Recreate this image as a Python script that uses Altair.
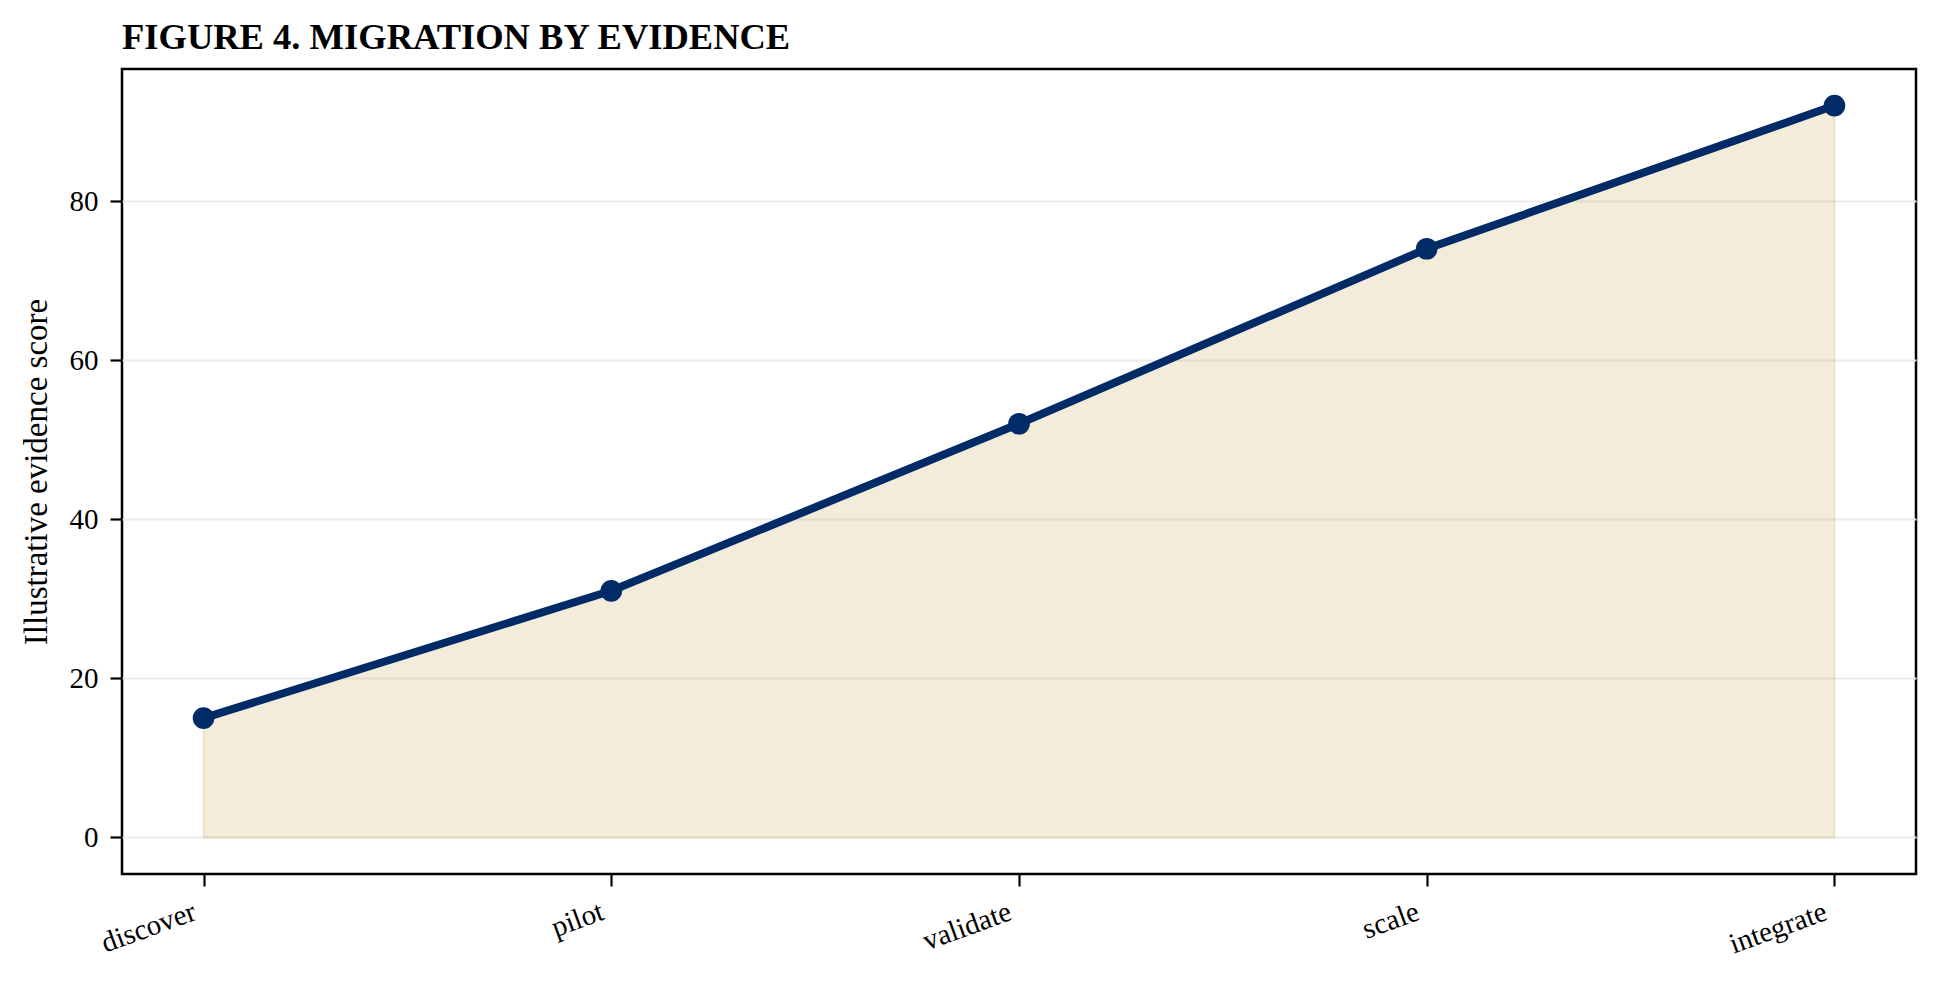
import altair as alt
import pandas as pd

etapas = ["discover", "pilot", "validate", "scale", "integrate"]
pontuacoes = [15, 31, 52, 74, 92]
ticks_y = [0, 20, 40, 60, 80]

fonte = "Liberation Serif"
azul = "#002b66"
areia = "#c3a04b"

df = pd.DataFrame({"etapa": etapas, "pontuacao": pontuacoes})

x = alt.X(
    "etapa:O",
    sort=etapas,
    scale=alt.Scale(type="point", padding=0.2),
    axis=alt.Axis(title=None, labelAngle=-20, labelAlign="right", labelBaseline="top",
                  labelOffset=-14, labelPadding=11, grid=False),
)
y = alt.Y(
    "pontuacao:Q",
    scale=alt.Scale(domain=[-4.6, 96.6], nice=False, zero=False),
    axis=alt.Axis(title="Illustrative evidence score", values=ticks_y, grid=True,
                  titlePadding=16, labelPadding=12),
)

base = alt.Chart(df).encode(x=x, y=y)

area = base.mark_area(color=areia, fillOpacity=0.2, stroke=areia, strokeOpacity=0.2, strokeWidth=2)
linha = base.mark_line(color=azul, strokeWidth=8)
pontos = base.mark_circle(color=azul, size=470, opacity=1)

chart = alt.layer(area, linha, pontos).properties(
    width=1794,
    height=805,
    autosize=alt.AutoSizeParams(type="none"),
    padding={"left": 114, "top": 61, "right": 16, "bottom": 101},
    background="white",
    title=alt.TitleParams(
        "FIGURE 4. MIGRATION BY EVIDENCE",
        anchor="start",
        frame="group",
        font=fonte,
        fontSize=36.5,
        fontWeight="bold",
        color="black",
        offset=13,
    ),
).configure_axis(
    labelFont=fonte,
    labelFontSize=29,
    labelColor="black",
    titleFont=fonte,
    titleFontSize=33,
    titleFontWeight="normal",
    titleColor="black",
    domain=False,
    tickColor="black",
    tickWidth=2.2,
    tickSize=12,
    gridColor="#ebebeb",
    gridWidth=2,
).configure_view(
    stroke="black",
    strokeWidth=2.5,
)

chart.save("out.html", embed_options={"renderer": "svg", "actions": False})
